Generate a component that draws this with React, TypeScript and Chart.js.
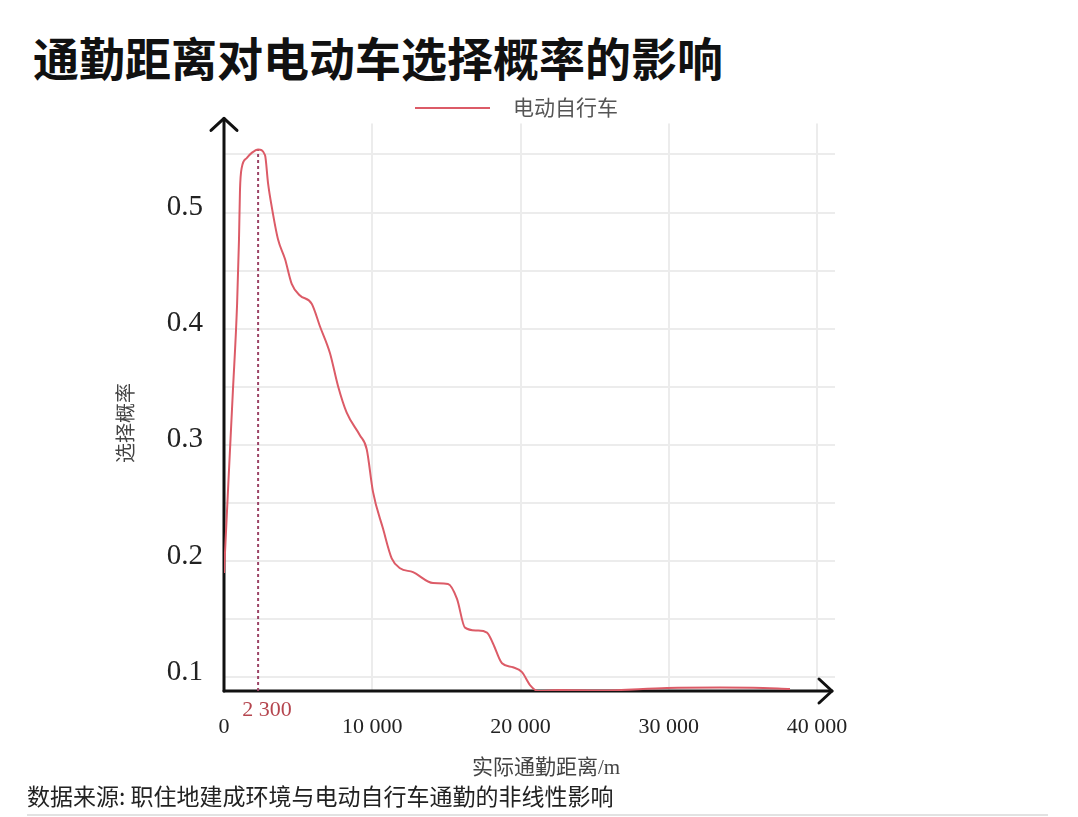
import React, { useEffect, useRef } from 'react';
import { Chart, registerables } from 'chart.js';

Chart.register(...registerables);

// ---- data ----
const chartTitle = '通勤距离对电动车选择概率的影响';
const sourceNote = '数据来源: 职住地建成环境与电动自行车通勤的非线性影响';
const seriesLabel = '电动自行车';
const xAxisTitle = '实际通勤距离/m';
const yAxisTitle = '选择概率';

const distances = [
  0, 297, 594, 884, 1012, 1079, 1194, 1531, 1889, 2300, 2766, 2968, 3218, 3642, 4115, 4567,
  5126, 5916, 6476, 7150, 7690, 8277, 9174, 9626, 10051, 10725, 11312, 11872, 12749, 14098,
  15110, 15717, 16256, 17066, 17740, 18145, 18752, 19494, 20101, 20641, 21180, 22664, 25363,
  29882, 33457, 35683, 38179,
];
const probabilities = [
  0.1896, 0.268, 0.3448, 0.4215, 0.477, 0.5196, 0.5384, 0.5469, 0.5516, 0.5543, 0.5495, 0.5256,
  0.5051, 0.477, 0.46, 0.4386, 0.4286, 0.4215, 0.4019, 0.3789, 0.3507, 0.3277, 0.3081, 0.2962,
  0.2595, 0.2279, 0.2023, 0.1938, 0.1904, 0.181, 0.1802, 0.1674, 0.1426, 0.1401, 0.1384, 0.129,
  0.1119, 0.1085, 0.1043, 0.0932, 0.0881, 0.0889, 0.0885, 0.0906, 0.091, 0.0909, 0.0898,
];
const peakDistance = 2300;
const peakLabel = '2 300';

const xTickValues = [0, 10000, 20000, 30000, 40000];
const yGridValues = [0.1, 0.15, 0.2, 0.25, 0.3, 0.35, 0.4, 0.45, 0.5, 0.55];
const yTickLabels = ['0.1', '0.2', '0.3', '0.4', '0.5'];

const xMin = 0;
const xMax = 41214;
const yMin = 0.08806;
const yMax = 0.57676;

// ---- styles ----
const curveColor = '#dc5b67';
const dashColor = '#9c4466';
const peakLabelColor = '#b5454e';
const gridColor = '#ececec';
const serif = "'Liberation Serif', 'Times New Roman', 'Noto Sans CJK SC', serif";
const cjk = "'Noto Sans CJK SC', 'Noto Sans', sans-serif";

const formatThousands = (v: number) => String(v).replace(/\B(?=(\d{3})+(?!\d))/g, ' ');

const decorPlugin = {
  id: 'decor',
  beforeDatasetsDraw(chart: any) {
    const { ctx, chartArea } = chart;
    const left = chartArea.left;
    const bottom = chartArea.bottom;
    const topTip = chartArea.top - 5;
    const rightTip = chartArea.right - 3;
    ctx.save();
    ctx.strokeStyle = '#111';
    ctx.lineWidth = 3;
    ctx.lineCap = 'round';
    ctx.lineJoin = 'round';
    // y axis
    ctx.beginPath();
    ctx.moveTo(left, bottom);
    ctx.lineTo(left, topTip);
    ctx.stroke();
    ctx.beginPath();
    ctx.moveTo(left - 13, topTip + 12);
    ctx.lineTo(left, topTip);
    ctx.lineTo(left + 13, topTip + 12);
    ctx.stroke();
    // x axis
    ctx.beginPath();
    ctx.moveTo(left, bottom);
    ctx.lineTo(rightTip, bottom);
    ctx.stroke();
    ctx.beginPath();
    ctx.moveTo(rightTip - 13, bottom - 12);
    ctx.lineTo(rightTip, bottom);
    ctx.lineTo(rightTip - 13, bottom + 12);
    ctx.stroke();
    ctx.restore();
  },
  afterDraw(chart: any) {
    const { ctx, chartArea, scales } = chart;
    const ds = chart.data.datasets[0];
    ctx.save();
    // legend
    ctx.strokeStyle = ds.borderColor;
    ctx.lineWidth = 2;
    ctx.beginPath();
    ctx.moveTo(415, 23);
    ctx.lineTo(490, 23);
    ctx.stroke();
    ctx.fillStyle = '#555';
    ctx.font = `21px ${serif}`;
    ctx.textAlign = 'left';
    ctx.textBaseline = 'middle';
    ctx.fillText(ds.label, 513, 24);

    // peak label
    ctx.fillStyle = peakLabelColor;
    ctx.font = `22px ${serif}`;
    ctx.textAlign = 'center';
    ctx.fillText(peakLabel, scales.x.getPixelForValue(peakDistance) + 9, chartArea.bottom + 19);

    // axis titles
    ctx.fillStyle = '#444';
    ctx.font = `21px ${serif}`;
    ctx.fillText(xAxisTitle, 546, chartArea.bottom + 77);
    ctx.font = `20px ${serif}`;
    ctx.translate(128, 338);
    ctx.rotate(-Math.PI / 2);
    ctx.fillText(yAxisTitle, 0, 0);
    ctx.restore();
  },
};

export default function App() {
  const canvasRef = useRef<HTMLCanvasElement>(null);

  useEffect(() => {
    const canvas = canvasRef.current;
    if (!canvas) return;
    const peakIndex = distances.indexOf(peakDistance);
    const peakValue = probabilities[peakIndex];
    const chart = new Chart(canvas, {
      type: 'line',
      data: {
        datasets: [
          {
            label: seriesLabel,
            data: distances.map((d, i) => ({ x: d, y: probabilities[i] })),
            borderColor: curveColor,
            borderWidth: 2,
            pointRadius: 0,
            cubicInterpolationMode: 'monotone',
            fill: false,
            order: 1,
          },
          {
            label: 'peak',
            data: [
              { x: peakDistance, y: yMin },
              { x: peakDistance, y: peakValue },
            ],
            borderColor: dashColor,
            borderWidth: 2,
            borderDash: [3, 3],
            pointRadius: 0,
            fill: false,
            order: 2,
          },
        ],
      },
      options: {
        responsive: false,
        animation: false,
        devicePixelRatio: 1,
        layout: { padding: { top: 33, left: 0, right: 243, bottom: 0 } },
        plugins: {
          legend: { display: false },
          tooltip: { enabled: false },
        },
        scales: {
          x: {
            type: 'linear',
            min: xMin,
            max: xMax,
            afterBuildTicks: (axis: any) => {
              axis.ticks = xTickValues.map((v) => ({ value: v }));
            },
            afterFit: (s: any) => {
              s.height = 94;
            },
            border: { display: false },
            grid: {
              drawTicks: false,
              lineWidth: 2,
              color: (c: any) => (c.tick && c.tick.value === 0 ? 'rgba(0,0,0,0)' : gridColor),
            },
            ticks: {
              padding: 23,
              maxRotation: 0,
              autoSkip: false,
              color: '#222',
              font: { family: serif, size: 22 },
              callback: (v: any) => formatThousands(Number(v)),
            },
          },
          y: {
            type: 'linear',
            min: yMin,
            max: yMax,
            afterBuildTicks: (axis: any) => {
              axis.ticks = yGridValues.map((v) => ({ value: v }));
            },
            afterFit: (s: any) => {
              s.width = 224;
            },
            border: { display: false },
            grid: {
              drawTicks: false,
              lineWidth: 2,
              color: gridColor,
            },
            ticks: {
              padding: 21,
              labelOffset: -5,
              autoSkip: false,
              color: '#222',
              font: { family: serif, size: 29 },
              callback: (v: any) => {
                const s = Number(v).toFixed(1);
                return Math.abs(Number(v) - Number(s)) < 1e-6 && yTickLabels.includes(s) ? s : '';
              },
            },
          },
        },
      },
      plugins: [decorPlugin],
    } as any);
    return () => chart.destroy();
  }, []);

  return (
    <div style={{ position: 'absolute', left: 0, top: 0, width: 1078, height: 817, background: '#fff', overflow: 'hidden' }}>
      <div
        style={{
          position: 'absolute',
          left: 33,
          top: 33,
          fontFamily: cjk,
          fontWeight: 700,
          fontSize: 46,
          lineHeight: '46px',
          color: '#111',
          whiteSpace: 'nowrap',
        }}
      >
        {chartTitle}
      </div>
      <canvas
        ref={canvasRef}
        width={1078}
        height={700}
        style={{ position: 'absolute', left: 0, top: 85, width: 1078, height: 700, display: 'block' }}
      />
      <div
        style={{
          position: 'absolute',
          left: 27,
          top: 784,
          fontFamily: cjk,
          fontSize: 23,
          lineHeight: '23px',
          color: '#222',
          whiteSpace: 'nowrap',
        }}
      >
        {sourceNote}
      </div>
      <div style={{ position: 'absolute', left: 27, top: 814, width: 1021, height: 2, background: '#e2e2e2' }} />
    </div>
  );
}
